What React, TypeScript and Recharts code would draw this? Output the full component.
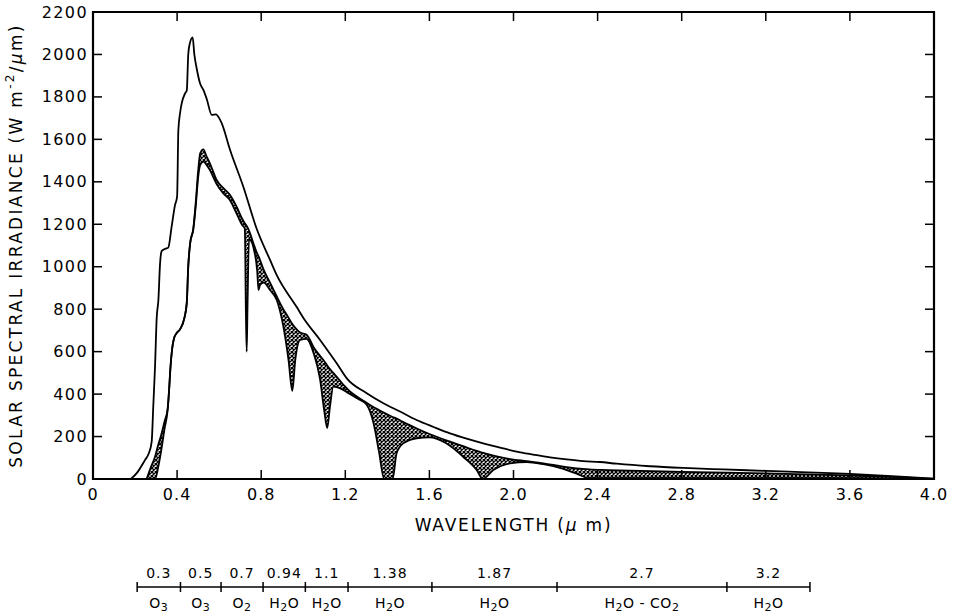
import React from 'react';
import {
  ComposedChart,
  Line,
  Area,
  XAxis,
  YAxis,
  ReferenceArea,
  ReferenceLine,
  Scatter,
} from 'recharts';

// ---------- data ----------
// extraterrestrial (top) curve
const topWavelength = [
  0.18, 0.21, 0.247, 0.265, 0.279, 0.287, 0.295, 0.303, 0.311, 0.319, 0.327, 0.345, 0.358,
  0.374, 0.39, 0.4, 0.406, 0.414, 0.422, 0.438, 0.446, 0.453, 0.46, 0.474, 0.482, 0.493,
  0.509, 0.525, 0.541, 0.565, 0.585, 0.6, 0.612, 0.652, 0.715, 0.778, 0.842, 0.874, 0.969,
  1.0, 1.08, 1.159, 1.207, 1.3, 1.381, 1.46, 1.539, 1.62, 1.698, 1.777, 1.856, 1.936, 2.015,
  2.094, 2.174, 2.253, 2.332, 2.411, 2.491, 2.649, 2.808, 3.0, 3.204, 3.4, 3.6, 3.8, 4.0,
];
const topIrradiance = [
  0, 30, 89, 120, 175, 350, 529, 760, 843, 1016, 1075, 1085, 1090,
  1189, 1290, 1330, 1644, 1723, 1770, 1817, 1830, 2000, 2050, 2080, 2000, 1935,
  1864, 1833, 1790, 1715, 1718, 1700, 1676, 1550, 1377, 1180, 1032, 960, 810,
  760, 655, 545, 474, 405, 357, 318, 278, 245, 215, 190, 168, 148, 129,
  115, 102, 92, 84, 80, 72, 60, 52, 45, 38, 31, 24, 14, 2,
];

// clear-sky (upper edge of hatch) and absorbed (lower edge of hatch) curves
const hatchWavelength = [
  0.255, 0.275, 0.295, 0.31, 0.325, 0.34, 0.355, 0.362, 0.368, 0.376, 0.386, 0.4, 0.414,
  0.435, 0.446, 0.453, 0.462, 0.477, 0.49, 0.5, 0.51, 0.525, 0.54, 0.556, 0.588, 0.62,
  0.65, 0.683, 0.71, 0.722, 0.727, 0.731, 0.735, 0.742, 0.77, 0.781, 0.787, 0.795, 0.812,
  0.842, 0.874, 0.905, 0.93, 0.948, 0.962, 0.985, 1.016, 1.05, 1.08, 1.1, 1.114, 1.127,
  1.143, 1.19, 1.222, 1.26, 1.3, 1.335, 1.36, 1.385, 1.425, 1.444, 1.476, 1.54, 1.6,
  1.68, 1.76, 1.825, 1.853, 1.904, 1.983, 2.063, 2.142, 2.237, 2.3, 2.36, 2.45, 2.8, 3.2,
  3.6, 3.8, 4.0,
];
const clearSkyIrradiance = [
  0, 55, 105, 160, 210, 270, 330, 420, 520, 610, 665, 690, 705,
  760, 830, 1000, 1110, 1180, 1320, 1450, 1535, 1553, 1520, 1487, 1409, 1370,
  1340, 1283, 1225, 1205, 1198, 1192, 1185, 1170, 1090, 1062, 1050, 1030, 985,
  925, 860, 800, 760, 730, 712, 690, 680, 620, 580, 555, 535, 518,
  500, 445, 412, 385, 360, 338, 325, 312, 292, 285, 268, 238, 212,
  182, 155, 132, 124, 110, 94, 84, 74, 58, 50, 45, 42, 34, 26,
  17, 10, 0,
];
const absorbedIrradiance = [
  0, 0, 0, 55, 137, 235, 325, 420, 520, 610, 665, 690, 705,
  760, 830, 1000, 1110, 1175, 1300, 1420, 1480, 1495, 1480, 1455, 1390, 1345,
  1315, 1250, 1195, 1180, 800, 600, 820, 1130, 1060, 980, 890, 915, 925,
  890, 843, 720, 560, 415, 560, 655, 660, 590, 470, 320, 240, 340,
  435, 420, 400, 378, 352, 260, 130, 0, 0, 121, 168, 192, 196,
  168, 105, 42, 0, 42, 74, 80, 70, 48, 25, 4, 4, 4, 4,
  4, 2, 0,
];

const xTicks = [0, 0.4, 0.8, 1.2, 1.6, 2.0, 2.4, 2.8, 3.2, 3.6, 4.0];
const yTicks = [0, 200, 400, 600, 800, 1000, 1200, 1400, 1600, 1800, 2000, 2200];

// absorption band schematic below the chart
const bandEdges = [0.21, 0.416, 0.609, 0.809, 1.01, 1.213, 1.612, 2.207, 3.015, 3.41];
const bandCenters = ['0.3', '0.5', '0.7', '0.94', '1.1', '1.38', '1.87', '2.7', '3.2'];
const bandAbsorbers = ['O3', 'O3', 'O2', 'H2O', 'H2O', 'H2O', 'H2O', 'H2O - CO2', 'H2O'];

// ---------- derived tables ----------
const topRows = topWavelength.map((x, i) => ({ x, top: topIrradiance[i] }));
const hatchRows = hatchWavelength.map((x, i) => ({
  x,
  clear: clearSkyIrradiance[i],
  absorbed: absorbedIrradiance[i],
  band: [absorbedIrradiance[i], clearSkyIrradiance[i]],
}));
const bandRows = bandCenters.map((label, i) => ({
  x: (bandEdges[i] + bandEdges[i + 1]) / 2,
  y: 0,
  label,
  gas: bandAbsorbers[i],
}));

// ---------- layout ----------
const FONT = '"DejaVu Sans", sans-serif';
const W = 959;
const PLOT_LEFT = 93;
const PLOT_TOP = 12;
const PLOT_W = 841;
const PLOT_H = 467;
const MAIN_H = 545;
const BAND_H = 71;
const TICK = 9;
const BAND_LINE = 42;

const fmtX = (v: number) => (v === 0 ? '0' : v.toFixed(1));

const XTick = (props: any) => {
  const { x, y, payload } = props;
  return (
    <g>
      <line x1={x} y1={y} x2={x} y2={y - TICK} stroke="#000" strokeWidth={1.5} />
      <line x1={x} y1={PLOT_TOP} x2={x} y2={PLOT_TOP + TICK} stroke="#000" strokeWidth={1.5} />
      <text
        x={x}
        y={y + 15}
        textAnchor="middle"
        dominantBaseline="central"
        fontFamily={FONT}
        fontSize={16}
        letterSpacing={1}
        fill="#000"
      >
        {fmtX(payload.value)}
      </text>
    </g>
  );
};

const YTick = (props: any) => {
  const { x, y, payload } = props;
  const right = PLOT_LEFT + PLOT_W;
  return (
    <g>
      <line x1={x} y1={y} x2={x + TICK} y2={y} stroke="#000" strokeWidth={1.5} />
      <line x1={right} y1={y} x2={right - TICK} y2={y} stroke="#000" strokeWidth={1.5} />
      <text
        x={x - 5}
        y={y}
        textAnchor="end"
        dominantBaseline="central"
        fontFamily={FONT}
        fontSize={16}
        letterSpacing={1.4}
        fill="#000"
      >
        {payload.value}
      </text>
    </g>
  );
};

const XTitle = (props: any) => {
  const vb = props.viewBox || { x: PLOT_LEFT, y: PLOT_TOP + PLOT_H, width: PLOT_W };
  return (
    <text
      x={vb.x + vb.width / 2}
      y={vb.y + 46}
      textAnchor="middle"
      dominantBaseline="central"
      fontFamily={FONT}
      fontSize={17}
      letterSpacing={1.8}
      fill="#000"
    >
      WAVELENGTH (<tspan fontStyle="italic">µ</tspan> m)
    </text>
  );
};

const YTitle = (props: any) => {
  const vb = props.viewBox || { x: 0, y: PLOT_TOP, height: PLOT_H };
  const cx = 16;
  const cy = vb.y + vb.height / 2;
  return (
    <text
      x={cx}
      y={cy}
      transform={`rotate(-90 ${cx} ${cy})`}
      textAnchor="middle"
      dominantBaseline="central"
      fontFamily={FONT}
      fontSize={17}
      letterSpacing={2.3}
      fill="#000"
    >
      SOLAR SPECTRAL IRRADIANCE (W m
      <tspan dy={-6} fontSize={12}>-2</tspan>
      <tspan dy={6}>/</tspan>
      <tspan fontStyle="italic">µ</tspan>m)
    </text>
  );
};

const chem = (s: string) => {
  const parts: React.ReactNode[] = [];
  let sub = false;
  s.split('').forEach((ch, i) => {
    const isDigit = /[0-9]/.test(ch);
    if (isDigit && !sub) {
      parts.push(
        <tspan key={i} dy={4} fontSize={11}>
          {ch}
        </tspan>
      );
      sub = true;
    } else if (!isDigit && sub) {
      parts.push(
        <tspan key={i} dy={-4}>
          {ch}
        </tspan>
      );
      sub = false;
    } else {
      parts.push(
        <tspan key={i} fontSize={isDigit ? 11 : undefined}>
          {ch}
        </tspan>
      );
    }
  });
  return parts;
};

const BandLabel = (props: any) => {
  const { cx, payload } = props;
  return (
    <g>
      <text
        x={cx}
        y={28}
        textAnchor="middle"
        dominantBaseline="central"
        fontFamily={FONT}
        fontSize={14}
        letterSpacing={1}
        fill="#000"
      >
        {payload.label}
      </text>
      <text
        x={cx}
        y={58}
        textAnchor="middle"
        dominantBaseline="central"
        fontFamily={FONT}
        fontSize={14}
        letterSpacing={0.5}
        fill="#000"
      >
        {chem(payload.gas)}
      </text>
    </g>
  );
};

export default function App() {
  return (
    <div style={{ width: W, height: MAIN_H + BAND_H, position: 'relative', background: '#fff' }}>
      <style>{`html,body{margin:0;padding:0;overflow:hidden;background:#fff}`}</style>
      <svg width={0} height={0} style={{ position: 'absolute' }}>
        <defs>
          <pattern id="xhatch" width={4} height={4} patternUnits="userSpaceOnUse">
            <rect width={4} height={4} fill="#fff" />
            <path d="M0,0 L4,4 M4,0 L0,4" stroke="#000" strokeWidth={1.25} />
          </pattern>
        </defs>
      </svg>
      <ComposedChart
        width={W}
        height={MAIN_H}
        data={hatchRows}
        margin={{ top: PLOT_TOP, right: W - PLOT_LEFT - PLOT_W, left: 0, bottom: 0 }}
      >
        <XAxis
          dataKey="x"
          type="number"
          domain={[0, 4]}
          ticks={xTicks}
          interval={0}
          height={MAIN_H - PLOT_TOP - PLOT_H}
          tickSize={0}
          tickMargin={0}
          axisLine={false}
          tickLine={false}
          tick={XTick}
          allowDataOverflow
          label={<XTitle />}
        />
        <YAxis
          type="number"
          domain={[0, 2200]}
          ticks={yTicks}
          interval={0}
          width={PLOT_LEFT}
          tickSize={0}
          tickMargin={0}
          axisLine={false}
          tickLine={false}
          tick={YTick}
          allowDataOverflow
          label={<YTitle />}
        />
        <Area
          dataKey="band"
          type="monotone"
          fill="url(#xhatch)"
          fillOpacity={1}
          stroke="none"
          isAnimationActive={false}
        />
        <Line
          dataKey="clear"
          type="monotone"
          stroke="#000"
          strokeWidth={1.8}
          dot={false}
          isAnimationActive={false}
        />
        <Line
          dataKey="absorbed"
          type="monotone"
          stroke="#000"
          strokeWidth={1.8}
          dot={false}
          isAnimationActive={false}
        />
        <Line
          data={topRows}
          dataKey="top"
          type="monotone"
          stroke="#000"
          strokeWidth={1.8}
          dot={false}
          isAnimationActive={false}
        />
        <ReferenceArea
          x1={0}
          x2={4}
          y1={0}
          y2={2200}
          fill="none"
          stroke="#000"
          strokeWidth={2.2}
          ifOverflow="visible"
        />
      </ComposedChart>
      <ComposedChart
        width={W}
        height={BAND_H}
        data={bandRows}
        margin={{ top: 0, right: W - PLOT_LEFT - PLOT_W, left: PLOT_LEFT, bottom: 0 }}
      >
        <XAxis dataKey="x" type="number" domain={[0, 4]} hide allowDataOverflow />
        <YAxis type="number" domain={[0, BAND_H]} reversed hide allowDataOverflow />
        <ReferenceLine
          segment={[
            { x: bandEdges[0], y: BAND_LINE },
            { x: bandEdges[bandEdges.length - 1], y: BAND_LINE },
          ]}
          stroke="#000"
          strokeWidth={1.5}
          ifOverflow="visible"
        />
        {bandEdges.map((e) => (
          <ReferenceLine
            key={e}
            segment={[
              { x: e, y: BAND_LINE - 5 },
              { x: e, y: BAND_LINE + 5 },
            ]}
            stroke="#000"
            strokeWidth={1.5}
            ifOverflow="visible"
          />
        ))}
        <Scatter dataKey="y" shape={BandLabel} isAnimationActive={false} />
      </ComposedChart>
    </div>
  );
}
